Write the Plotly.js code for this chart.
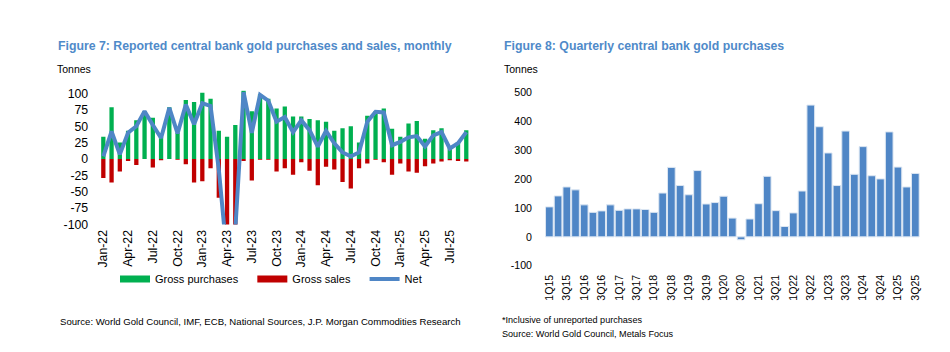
<!DOCTYPE html>
<html>
<head>
<meta charset="utf-8">
<script src="https://cdn.plot.ly/plotly-3.0.1.min.js"></script>
<style>
html,body{margin:0;padding:0;background:#fff;}
#chart{width:950px;height:352px;}
</style>
</head>
<body>
<div id="chart"></div>
<script>
// ---------- Figure 7 data (monthly, tonnes) ----------
const months = ['Jan-22','Feb-22','Mar-22','Apr-22','May-22','Jun-22','Jul-22','Aug-22','Sep-22','Oct-22','Nov-22','Dec-22',
  'Jan-23','Feb-23','Mar-23','Apr-23','May-23','Jun-23','Jul-23','Aug-23','Sep-23','Oct-23','Nov-23','Dec-23',
  'Jan-24','Feb-24','Mar-24','Apr-24','May-24','Jun-24','Jul-24','Aug-24','Sep-24','Oct-24','Nov-24','Dec-24',
  'Jan-25','Feb-25','Mar-25','Apr-25','May-25','Jun-25','Jul-25','Aug-25','Sep-25'];
const grossPurchases = [34,79,25,43,59,73,63,33,79,40,90,87,
  101,92,43,34,52,104,73,99,92,77,80,65,
  65,61,59,57,43,47,50,25,66,73,77,46,
  34,54,58,31,44,47,18,26,44];
const grossSales = [-29,-36,-19,-3,-9,0,-13,-2,0,-1,-8,-36,
  -34,-14,-59,-185,-160,-3,-33,-1,-1,-19,-14,-24,
  -5,-18,-40,-12,-16,-35,-45,-14,-7,-1,-5,-24,
  -7,-19,-21,-11,-7,-4,-2,-3,-4];
const netMonthly = [4,42,7,40,50,73,52,32,78,39,83,53,
  85,81,-16,-150,-108,102,40,98,89,57,64,41,
  59,44,19,43,24,10,4,10,57,72,71,21,
  26,33,35,19,36,41,16,24,41];
const monthTickLabels = ['Jan-22','Apr-22','Jul-22','Oct-22','Jan-23','Apr-23','Jul-23','Oct-23','Jan-24','Apr-24','Jul-24','Oct-24','Jan-25','Apr-25','Jul-25'];
const leftYTicks = [-100,-75,-50,-25,0,25,50,75,100];
const seriesNames = ['Gross purchases','Gross sales','Net'];

// ---------- Figure 8 data (quarterly, tonnes) ----------
const quarters = ['1Q15','2Q15','3Q15','4Q15','1Q16','2Q16','3Q16','4Q16','1Q17','2Q17','3Q17','4Q17',
  '1Q18','2Q18','3Q18','4Q18','1Q19','2Q19','3Q19','4Q19','1Q20','2Q20','3Q20','4Q20',
  '1Q21','2Q21','3Q21','4Q21','1Q22','2Q22','3Q22','4Q22','1Q23','2Q23','3Q23','4Q23',
  '1Q24','2Q24','3Q24','4Q24','1Q25','2Q25','3Q25'];
const quarterlyPurchases = [104,142,173,163,111,85,90,111,92,97,97,95,
  85,152,241,178,146,230,114,119,141,65,-10,62,
  115,210,91,36,83,159,457,382,291,178,367,217,
  313,212,201,364,242,173,220];
const quarterTickLabels = ['1Q15','3Q15','1Q16','3Q16','1Q17','3Q17','1Q18','3Q18','1Q19','3Q19','1Q20','3Q20',
  '1Q21','3Q21','1Q22','3Q22','1Q23','3Q23','1Q24','3Q24','1Q25','3Q25'];
const rightYTicks = [-100,0,100,200,300,400,500];

// ---------- styling ----------
const FONT = '"Liberation Sans", Arial, sans-serif';
const GREEN = '#00b050', RED = '#c00000', BLUE = '#4f86c6', TITLEBLUE = '#4f8ac9';
const W = 950, H = 352;
const px = v => v / W;
const py = v => 1 - v / H;
const NB = '\u00a0';

const Lx = [px(99.2), px(470.4)], Ly = [py(224.5), py(90.2)], Lr = [-100, 105];
const Rx = [px(545), px(919.7)], Ry = [py(265.7), py(92.7)], Rr = [-100, 500];
const zeroPos = (dom, r) => dom[0] + (0 - r[0]) / (r[1] - r[0]) * (dom[1] - dom[0]);

const traces = [
  {type:'bar', x:months, y:grossPurchases, xaxis:'x', yaxis:'y', width:0.52,
   marker:{color:GREEN}, showlegend:false, hoverinfo:'skip'},
  {type:'bar', x:months, y:grossSales, xaxis:'x', yaxis:'y', width:0.52,
   marker:{color:RED}, showlegend:false, hoverinfo:'skip'},
  {type:'scatter', mode:'lines', x:months, y:netMonthly, xaxis:'x', yaxis:'y',
   line:{color:BLUE, width:4}, showlegend:false, hoverinfo:'skip'},
  // legend entries
  {type:'scatter', mode:'lines', x:[null], y:[null], xaxis:'x', yaxis:'y', name:seriesNames[0] + NB + NB + NB,
   line:{color:GREEN, width:7}},
  {type:'scatter', mode:'lines', x:[null], y:[null], xaxis:'x', yaxis:'y', name:seriesNames[1] + NB + NB + NB,
   line:{color:RED, width:7}},
  {type:'scatter', mode:'lines', x:[null], y:[null], xaxis:'x', yaxis:'y', name:seriesNames[2],
   line:{color:BLUE, width:4}},
  {type:'bar', x:quarters, y:quarterlyPurchases, xaxis:'x2', yaxis:'y2',
   marker:{color:BLUE, line:{color:'#dce6f2', width:1}}, showlegend:false, hoverinfo:'skip'}
];

const tickFontL = {family:FONT, size:12.3, color:'#000'};
const tickFontR = {family:FONT, size:10.6, color:'#000'};

const layout = {
  width:W, height:H,
  margin:{l:0, r:0, t:0, b:0},
  paper_bgcolor:'#fff', plot_bgcolor:'rgba(0,0,0,0)',
  font:{family:FONT, color:'#000'},
  barmode:'relative',
  bargap:0.12,
  showlegend:true,
  legend:{orientation:'h', x:px(115), y:py(279), xanchor:'left', yanchor:'middle',
    font:{family:FONT, size:11, color:'#000'}, bgcolor:'rgba(0,0,0,0)', itemwidth:30, tracegroupgap:0},
  xaxis:{domain:Lx, anchor:'y', type:'category', range:[-0.5, months.length-0.5],
    tickmode:'array', tickvals:monthTickLabels, ticktext:monthTickLabels, tickangle:-90,
    showline:false, ticks:'', showgrid:false, zeroline:false, tickfont:tickFontL, ticklabelstandoff:2},
  yaxis:{domain:Ly, anchor:'x', range:Lr, tickmode:'array', tickvals:leftYTicks, ticktext:leftYTicks.map(String),
    showgrid:false, zeroline:false, showline:false, ticks:'', tickfont:tickFontL, ticklabelstandoff:10},
  xaxis3:{overlaying:'x', anchor:'free', position:zeroPos(Ly, Lr), range:[-0.5, months.length-0.5],
    tickmode:'linear', tick0:-0.5, dtick:3, ticks:'outside', ticklen:3, tickcolor:'#c8c8c8',
    showticklabels:false, showline:true, linecolor:'#c8c8c8', linewidth:1, showgrid:false, zeroline:false},
  xaxis2:{domain:Rx, anchor:'y2', type:'category', range:[-0.5, quarters.length-0.5],
    tickmode:'array', tickvals:quarterTickLabels, ticktext:quarterTickLabels, tickangle:-90,
    showline:false, ticks:'', showgrid:false, zeroline:false, tickfont:tickFontR, ticklabelstandoff:6},
  yaxis2:{domain:Ry, anchor:'x2', range:Rr, tickmode:'array', tickvals:rightYTicks, ticktext:rightYTicks.map(String),
    showgrid:false, zeroline:false, showline:false, ticks:'', tickfont:tickFontR, ticklabelstandoff:12},
  xaxis4:{overlaying:'x2', anchor:'free', position:zeroPos(Ry, Rr), range:[-0.5, quarters.length-0.5],
    tickmode:'linear', tick0:-0.5, dtick:1, ticks:'outside', ticklen:4, tickcolor:'#d0d0d0',
    showticklabels:false, showline:true, linecolor:'#d0d0d0', linewidth:1, showgrid:false, zeroline:false},
  annotations:[
    {xref:'paper', yref:'paper', x:px(56), y:py(46), xanchor:'left', yanchor:'middle', showarrow:false,
     text:'<b>Figure 7: Reported central bank gold purchases and sales, monthly</b>',
     font:{family:FONT, size:12.3, color:TITLEBLUE}},
    {xref:'paper', yref:'paper', x:px(55), y:py(69), xanchor:'left', yanchor:'middle', showarrow:false,
     text:'Tonnes', font:{family:FONT, size:10.5, color:'#000'}},
    {xref:'paper', yref:'paper', x:px(502), y:py(46), xanchor:'left', yanchor:'middle', showarrow:false,
     text:'<b>Figure 8: Quarterly central bank gold purchases</b>',
     font:{family:FONT, size:12.3, color:TITLEBLUE}},
    {xref:'paper', yref:'paper', x:px(502), y:py(69), xanchor:'left', yanchor:'middle', showarrow:false,
     text:'Tonnes', font:{family:FONT, size:10.5, color:'#000'}},
    {xref:'paper', yref:'paper', x:px(58), y:py(321), xanchor:'left', yanchor:'middle', showarrow:false,
     text:'Source: World Gold Council, IMF, ECB, National Sources, J.P. Morgan Commodities Research',
     font:{family:FONT, size:9.6, color:'#000'}},
    {xref:'paper', yref:'paper', x:px(500), y:py(320), xanchor:'left', yanchor:'middle', showarrow:false,
     text:'*Inclusive of unreported purchases', font:{family:FONT, size:9.1, color:'#000'}},
    {xref:'paper', yref:'paper', x:px(500), y:py(334), xanchor:'left', yanchor:'middle', showarrow:false,
     text:'Source: World Gold Council, Metals Focus', font:{family:FONT, size:9.1, color:'#000'}}
  ]
};

Plotly.newPlot('chart', traces, layout, {staticPlot:true, displayModeBar:false});
</script>
</body>
</html>
